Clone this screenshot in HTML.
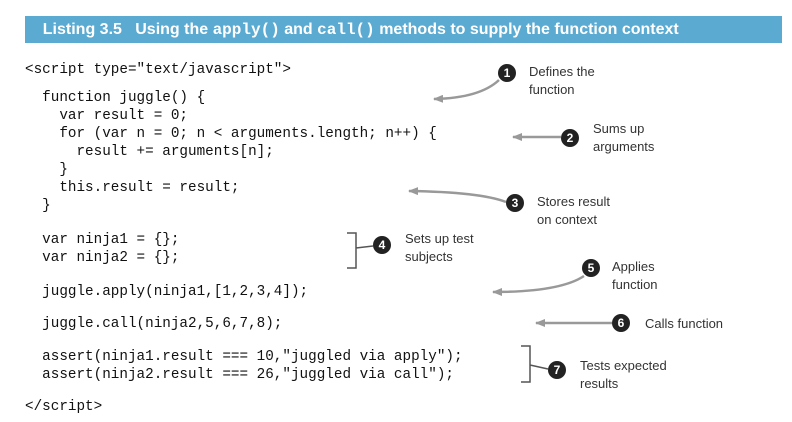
<!DOCTYPE html>
<html><head><meta charset="utf-8"><style>
body{margin:0;width:792px;height:422px;background:#fff;position:relative;overflow:hidden;font-family:"Liberation Mono",monospace}
.hdr{position:absolute;left:25px;top:16px;width:757px;height:27px;background:#5aaad2;color:#fff;font-family:"Liberation Sans",sans-serif;font-weight:bold;font-size:16px;line-height:27px;white-space:pre}
.c{position:absolute;font-size:14.3px;white-space:pre;color:#111;line-height:18px}
.l{position:absolute;font-family:"Liberation Sans Narrow","Liberation Sans",sans-serif;font-size:13px;color:#333;line-height:18px}
</style></head><body>
<div class="hdr">    Listing 3.5   Using the <span style="font-family:'Liberation Mono',monospace">apply()</span> and <span style="font-family:'Liberation Mono',monospace">call()</span> methods to supply the function context</div>
<div class="c" style="left:25px;top:61px">&lt;script type="text/javascript"&gt;</div>
<div class="c" style="left:25px;top:89px">  function juggle() {
    var result = 0;
    for (var n = 0; n &lt; arguments.length; n++) {
      result += arguments[n];
    }
    this.result = result;
  }</div>
<div class="c" style="left:25px;top:231px">  var ninja1 = {};
  var ninja2 = {};</div>
<div class="c" style="left:25px;top:283px">  juggle.apply(ninja1,[1,2,3,4]);</div>
<div class="c" style="left:25px;top:315px">  juggle.call(ninja2,5,6,7,8);</div>
<div class="c" style="left:25px;top:348px">  assert(ninja1.result === 10,"juggled via apply");
  assert(ninja2.result === 26,"juggled via call");</div>
<div class="c" style="left:25px;top:398px">&lt;/script&gt;</div>
<svg width="792" height="422" style="position:absolute;left:0;top:0">
<defs><marker id="a" markerWidth="10" markerHeight="8" refX="9" refY="4" orient="auto" markerUnits="userSpaceOnUse"><path d="M0,0 L10,4 L0,8 Z" fill="#999"/></marker></defs>
<g stroke="#999" stroke-width="2.5" fill="none">
<path d="M499,80 Q480,98 434,99" marker-end="url(#a)"/>
<path d="M561,137 L513,137" marker-end="url(#a)"/>
<path d="M506,202 Q480,192 409,191" marker-end="url(#a)"/>
<path d="M584,276 Q560,292 493,292" marker-end="url(#a)"/>
<path d="M612,323 L536,323" marker-end="url(#a)"/>
</g>
<g stroke="#555" stroke-width="1.5" fill="none">
<path d="M347,233 L356,233 L356,268 L347,268 M356,248 L373,246"/>
<path d="M521,346 L530,346 L530,382 L521,382 M530,365 L548,369"/>
</g>
<g fill="#222">
<circle cx="507" cy="73" r="9"/><circle cx="570" cy="138" r="9"/><circle cx="515" cy="203" r="9"/>
<circle cx="382" cy="245" r="9"/><circle cx="591" cy="268" r="9"/><circle cx="621" cy="323" r="9"/><circle cx="557" cy="370" r="9"/>
</g>
<g fill="#fff" font-family="Liberation Sans,sans-serif" font-size="12" font-weight="bold" text-anchor="middle">
<text x="507" y="77">1</text><text x="570" y="142">2</text><text x="515" y="207">3</text><text x="382" y="249">4</text><text x="591" y="272">5</text><text x="621" y="327">6</text><text x="557" y="374">7</text>
</g></svg>
<div class="l" style="left:529px;top:63px">Defines the<br>function</div>
<div class="l" style="left:593px;top:120px">Sums up<br>arguments</div>
<div class="l" style="left:537px;top:193px">Stores result<br>on context</div>
<div class="l" style="left:405px;top:230px">Sets up test<br>subjects</div>
<div class="l" style="left:612px;top:258px">Applies<br>function</div>
<div class="l" style="left:645px;top:315px">Calls function</div>
<div class="l" style="left:580px;top:357px">Tests expected<br>results</div>
</body></html>
